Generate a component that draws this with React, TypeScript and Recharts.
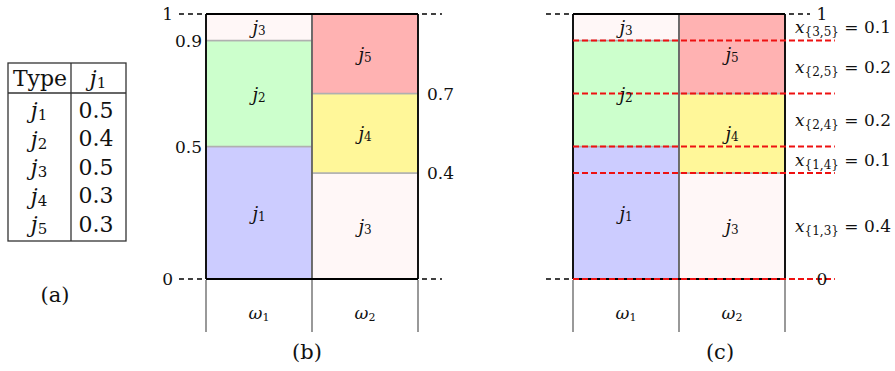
import React from 'react';
import { BarChart, Bar, XAxis, YAxis, Cell, LabelList, ReferenceLine } from 'recharts';

// ---- data ----
const omegaIndex = [1, 2];
const bottomJob = [1, 3];
const bottomShare = [0.5, 0.4];
const middleJob = [2, 4];
const middleShare = [0.4, 0.3];
const topJob = [3, 5];
const topShare = [0.1, 0.3];

const tableJobs = [1, 2, 3, 4, 5];
const tableValues = [0.5, 0.4, 0.5, 0.3, 0.3];

const leftTicksB = [0, 0.5, 0.9, 1];
const rightTicksB = [0.4, 0.7];
const boundaryLevels = [1, 0];
const cutLevels = [1, 0.9, 0.7, 0.5, 0.4, 0];
const redLevels = [0.9, 0.7, 0.5, 0.4, 0];
const pairLabels = ['3,5', '2,5', '2,4', '1,4', '1,3'];
const pairValues = [0.1, 0.2, 0.2, 0.1, 0.4];

// ---- styles ----
const SERIF = "'DejaVu Serif', 'Liberation Serif', serif";
const jobColors: Record<number, string> = {
  1: '#ccccff',
  2: '#ccffcc',
  3: '#fff7f7',
  4: '#fff799',
  5: '#ffb2b2',
};

const data = omegaIndex.map((w, i) => ({
  cat: `w${w}`,
  w,
  pos: i + 0.5,
  v0: bottomShare[i],
  v1: middleShare[i],
  v2: topShare[i],
  j0: bottomJob[i],
  j1: middleJob[i],
  j2: topJob[i],
}));

const pairMids = pairLabels.map((_, i) => (cutLevels[i] + cutLevels[i + 1]) / 2);

const JLabel = (props: any) => {
  const { x, y, width, height, value } = props;
  const cx = Number(x) + Number(width) / 2;
  const cy = Number(y) + Number(height) / 2;
  return (
    <text x={cx} y={cy} textAnchor="middle" dominantBaseline="central" fontFamily={SERIF} fontSize={18} fill="#111">
      <tspan fontStyle="italic">j</tspan>
      <tspan fontSize={12} dy={4}>{value}</tspan>
    </text>
  );
};

const OmegaTick = (props: any) => {
  const { x, y, payload } = props;
  const d = data.find((r) => r.cat === payload.value);
  return (
    <text x={x} y={y + 26} textAnchor="middle" dominantBaseline="central" fontFamily={SERIF} fontSize={17} fill="#111">
      <tspan fontStyle="italic">ω</tspan>
      <tspan fontSize={11} dy={4}>{d ? d.w : ''}</tspan>
    </text>
  );
};

const EmptyTick = () => null;

const fmt = (v: number) => (v === 0 || v === 1 ? String(v) : v.toFixed(1));

const LeftTickB = (props: any) => {
  const { x, y, payload } = props;
  const v = payload.value;
  const edge = v === 0 || v === 1;
  return (
    <text x={edge ? x - 33 : x - 4} y={y} textAnchor="end" dominantBaseline="central" fontFamily={SERIF} fontSize={17} fill="#111">
      {fmt(v)}
    </text>
  );
};

const RightTickB = (props: any) => {
  const { x, y, payload } = props;
  return (
    <text x={x + 9} y={y} textAnchor="start" dominantBaseline="central" fontFamily={SERIF} fontSize={17} fill="#111">
      {fmt(payload.value)}
    </text>
  );
};

const RightTickC = (props: any) => {
  const { x, y, payload } = props;
  const v = payload.value;
  if (v === 0 || v === 1) {
    return (
      <text x={x + 37} y={y} textAnchor="middle" dominantBaseline="central" fontFamily={SERIF} fontSize={17} fill="#111">
        {fmt(v)}
      </text>
    );
  }
  const idx = pairMids.findIndex((m) => Math.abs(m - v) < 1e-6);
  if (idx < 0) return null;
  return (
    <text x={x + 10} y={y} textAnchor="start" dominantBaseline="central" fontFamily={SERIF} fontSize={17} fill="#111">
      <tspan fontStyle="italic">x</tspan>
      <tspan fontSize={12} dy={5}>{`{${pairLabels[idx]}}`}</tspan>
      <tspan dy={-5}>{` = ${pairValues[idx].toFixed(1)}`}</tspan>
    </text>
  );
};

const segKeys: Array<['v0' | 'v1' | 'v2', 'j0' | 'j1' | 'j2']> = [
  ['v0', 'j0'],
  ['v1', 'j1'],
  ['v2', 'j2'],
];

function Panel({ variant }: { variant: 'b' | 'c' }) {
  const isB = variant === 'b';
  const margin = isB
    ? { top: 14, left: 55, right: 51, bottom: 90 }
    : { top: 14, left: 52, right: 109, bottom: 90 };
  const width = isB ? 320 : 375;
  const leftEdge = -0.255;
  const rightEdge = isB ? 2.226 : 2.236;
  const rightTicks = isB ? rightTicksB : [0, 1, ...pairMids];
  return (
    <BarChart width={width} height={371} data={data} margin={margin} barCategoryGap={0} barGap={0}>
      <XAxis xAxisId="c" dataKey="cat" type="category" height={1} axisLine={false} tickLine={false} tick={<OmegaTick />} interval={0} />
      <XAxis
        xAxisId="n"
        dataKey="pos"
        type="number"
        domain={[0, 2]}
        allowDataOverflow
        ticks={[0, 1, 2]}
        interval={0}
        height={1}
        axisLine={false}
        tick={<EmptyTick />}
        tickSize={52}
        tickLine={{ stroke: '#555', strokeWidth: 1.2 }}
      />
      <YAxis
        yAxisId="l"
        orientation="left"
        type="number"
        domain={[0, 1]}
        allowDataOverflow
        width={1}
        ticks={isB ? leftTicksB : [0, 1]}
        interval={0}
        axisLine={false}
        tickLine={false}
        tickSize={0}
        tickMargin={0}
        tick={isB ? <LeftTickB /> : <EmptyTick />}
      />
      <YAxis
        yAxisId="r"
        orientation="right"
        type="number"
        domain={[0, 1]}
        allowDataOverflow
        width={1}
        ticks={rightTicks}
        interval={0}
        axisLine={false}
        tickLine={false}
        tickSize={0}
        tickMargin={0}
        tick={isB ? <RightTickB /> : <RightTickC />}
      />
      {segKeys.map(([vk, jk]) => (
        <Bar key={vk} dataKey={vk} stackId="s" xAxisId="c" yAxisId="l" isAnimationActive={false} stroke="#b0b0b0" strokeWidth={1.5}>
          {data.map((row, i) => (
            <Cell key={i} fill={jobColors[row[jk]]} />
          ))}
          <LabelList dataKey={jk} content={<JLabel />} />
        </Bar>
      ))}
      <ReferenceLine xAxisId="n" yAxisId="l" x={1} stroke="#444" strokeWidth={1.3} />
      {[0, 2].map((xv) => (
        <ReferenceLine
          key={`v${xv}`}
          xAxisId="n"
          yAxisId="l"
          segment={[
            { x: xv, y: 0 },
            { x: xv, y: 1 },
          ]}
          ifOverflow="visible"
          stroke="#000"
          strokeWidth={1.8}
        />
      ))}
      {boundaryLevels.map((lv) => (
        <ReferenceLine
          key={`s${lv}`}
          xAxisId="n"
          yAxisId="l"
          segment={[
            { x: 0, y: lv },
            { x: 2, y: lv },
          ]}
          ifOverflow="visible"
          stroke="#000"
          strokeWidth={1.8}
        />
      ))}
      {boundaryLevels.map((lv) => (
        <ReferenceLine
          key={`b${lv}`}
          xAxisId="n"
          yAxisId="l"
          segment={[
            { x: leftEdge, y: lv },
            { x: rightEdge, y: lv },
          ]}
          ifOverflow="visible"
          stroke="#000"
          strokeWidth={1.5}
          strokeDasharray="5 4"
        />
      ))}
      {!isB &&
        redLevels.map((lv) => (
          <ReferenceLine
            key={`r${lv}`}
            xAxisId="n"
            yAxisId="l"
            segment={[
              { x: 0, y: lv },
              { x: 2.47, y: lv },
            ]}
            ifOverflow="visible"
            stroke="#ee1111"
            strokeWidth={2}
            strokeDasharray="6 3"
          />
        ))}
    </BarChart>
  );
}

function TypeTable() {
  const rowY = tableJobs.map((_, i) => 110 + i * 28.5);
  return (
    <svg width={140} height={260} style={{ position: 'absolute', left: 0, top: 0 }}>
      <rect x={8} y={63} width={118} height={178} fill="none" stroke="#333" strokeWidth={1.3} />
      <line x1={8} y1={93} x2={126} y2={93} stroke="#333" strokeWidth={1.3} />
      <line x1={71} y1={63} x2={71} y2={241} stroke="#333" strokeWidth={1.3} />
      <text x={40} y={78} textAnchor="middle" dominantBaseline="central" fontFamily={SERIF} fontSize={22} fill="#111">
        Type
      </text>
      <text x={98} y={78} textAnchor="middle" dominantBaseline="central" fontFamily={SERIF} fontSize={22} fill="#111">
        <tspan fontStyle="italic">j</tspan>
        <tspan fontSize={15} dy={5}>1</tspan>
      </text>
      {tableJobs.map((j, i) => (
        <g key={j}>
          <text x={39} y={rowY[i]} textAnchor="middle" dominantBaseline="central" fontFamily={SERIF} fontSize={22} fill="#111">
            <tspan fontStyle="italic">j</tspan>
            <tspan fontSize={15} dy={5}>{j}</tspan>
          </text>
          <text x={96} y={rowY[i]} textAnchor="middle" dominantBaseline="central" fontFamily={SERIF} fontSize={22} fill="#111">
            {tableValues[i].toFixed(1)}
          </text>
        </g>
      ))}
    </svg>
  );
}

const Caption = ({ cx, cy, text }: { cx: number; cy: number; text: string }) => (
  <svg width={60} height={30} style={{ position: 'absolute', left: cx - 30, top: cy - 15 }}>
    <text x={30} y={15} textAnchor="middle" dominantBaseline="central" fontFamily={SERIF} fontSize={21} fill="#111">
      {text}
    </text>
  </svg>
);

export default function App() {
  return (
    <div style={{ position: 'absolute', left: 0, top: 0, width: 895, height: 371, background: '#fff', overflow: 'hidden' }}>
      <TypeTable />
      <Caption cx={55} cy={295} text="(a)" />
      <div style={{ position: 'absolute', left: 150, top: 0 }}>
        <Panel variant="b" />
      </div>
      <Caption cx={307} cy={352} text="(b)" />
      <div style={{ position: 'absolute', left: 520, top: 0 }}>
        <Panel variant="c" />
      </div>
      <Caption cx={720} cy={352} text="(c)" />
    </div>
  );
}
